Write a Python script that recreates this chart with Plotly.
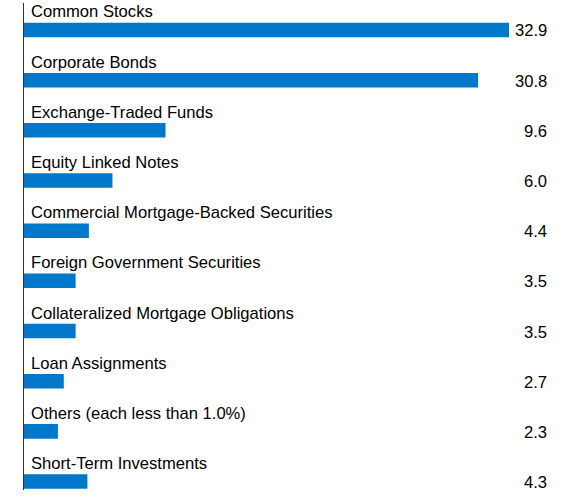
import plotly.graph_objects as go

categories = ["Common Stocks", "Corporate Bonds", "Exchange-Traded Funds", "Equity Linked Notes",
              "Commercial Mortgage-Backed Securities", "Foreign Government Securities",
              "Collateralized Mortgage Obligations", "Loan Assignments",
              "Others (each less than 1.0%)", "Short-Term Investments"]
values = [32.9, 30.8, 9.6, 6.0, 4.4, 3.5, 3.5, 2.7, 2.3, 4.3]
value_labels = ["32.9", "30.8", "9.6", "6.0", "4.4", "3.5", "3.5", "2.7", "2.3", "4.3"]

idx = list(range(len(categories)))
W, H = 573, 496
ml, mr, mt, mb = 24, 0, 3, 6
plot_w = W - ml - mr
px_per_unit = (509 - 24) / 32.9
xmax = plot_w / px_per_unit

fig = go.Figure(go.Bar(
    x=values, y=idx, orientation="h", width=0.29,
    marker=dict(color="#0077c8", line=dict(width=0)),
    hoverinfo="skip",
))

font = dict(family="Liberation Sans, Arial, sans-serif", size=16.6, color="#000000")
anns = []
for i, (c, lab) in enumerate(zip(categories, value_labels)):
    anns.append(dict(x=0, y=i, xref="x", yref="y", text=c, showarrow=False,
                     xanchor="left", yanchor="middle", xshift=5, yshift=18, font=font))
    anns.append(dict(x=(549 - ml) / plot_w, y=i, xref="paper", yref="y", text=lab, showarrow=False,
                     xanchor="right", yanchor="middle", yshift=-1, font=font))

fig.update_layout(
    width=W, height=H, margin=dict(l=ml, r=mr, t=mt, b=mb),
    paper_bgcolor="white", plot_bgcolor="white",
    showlegend=False, annotations=anns,
    xaxis=dict(range=[0, xmax], showgrid=False, zeroline=False, showticklabels=False,
               showline=False, ticks=""),
    yaxis=dict(range=[9.169, -0.538], showgrid=False, zeroline=False, showticklabels=False,
               showline=True, linecolor="#333333", linewidth=1, ticks=""),
)
fig.write_html("out.html")
